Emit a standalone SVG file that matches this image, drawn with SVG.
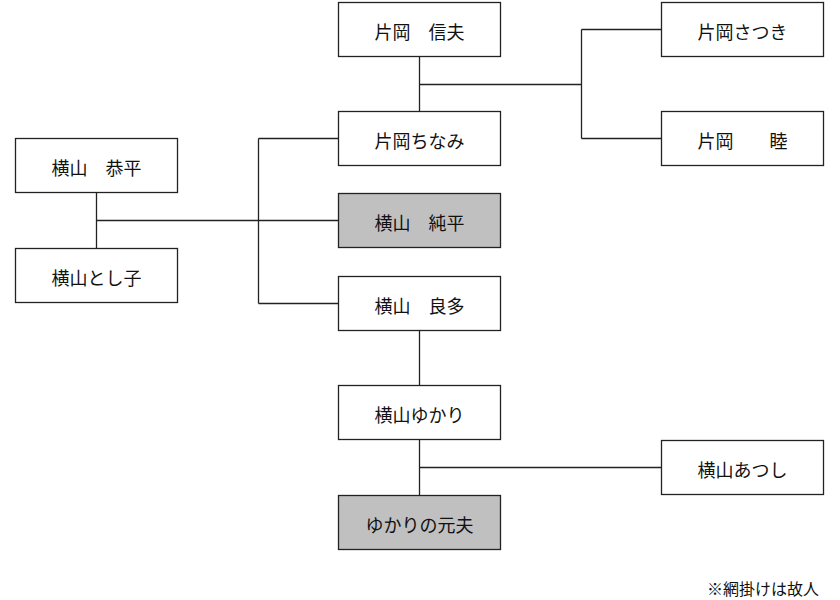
<svg xmlns="http://www.w3.org/2000/svg" width="840" height="600" viewBox="0 0 840 600">
<style>
.box{fill:#ffffff;stroke:#222222;stroke-width:1.3}
.dead{fill:#c0c0c0}
.lbl{font-family:"Noto Sans CJK JP","Noto Sans CJK SC",sans-serif;font-size:18px;fill:#111111;text-anchor:middle}
.note{font-family:"Noto Sans CJK JP","Noto Sans CJK SC",sans-serif;font-size:16px;fill:#111111;text-anchor:end}
.ln{fill:none;stroke:#222222;stroke-width:1.3}
</style>
<rect width="840" height="600" fill="#ffffff"/>
<g id="connectors">
<path class="ln" d="M419.5,57 V111 M419.5,84.5 H581.5 M581.5,29.5 V138.5 M581.5,29.5 H661 M581.5,138.5 H661"/>
<path class="ln" d="M96.5,193 V248 M96.5,220.5 H338"/>
<path class="ln" d="M258.5,138.5 V303.5 M258.5,138.5 H338 M258.5,303.5 H338"/>
<path class="ln" d="M419.5,331 V385 M419.5,440 V495 M419.5,467.5 H661"/>
</g>
<g id="nobuo"><rect class="box" x="338.5" y="2.5" width="162" height="54"/><text class="lbl" x="419.5" y="39">片岡　信夫</text></g>
<g id="satsuki"><rect class="box" x="661.5" y="2.5" width="162" height="54"/><text class="lbl" x="742.5" y="39">片岡さつき</text></g>
<g id="mutsu"><rect class="box" x="661.5" y="111.5" width="162" height="54"/><text class="lbl" x="742.5" y="148">片岡　　睦</text></g>
<g id="chinami"><rect class="box" x="338.5" y="111.5" width="162" height="54"/><text class="lbl" x="419.5" y="148">片岡ちなみ</text></g>
<g id="kyohei"><rect class="box" x="15.5" y="138.5" width="162" height="54"/><text class="lbl" x="96.5" y="175">横山　恭平</text></g>
<g id="toshiko"><rect class="box" x="15.5" y="248.5" width="162" height="54"/><text class="lbl" x="96.5" y="285">横山とし子</text></g>
<g id="junpei"><rect class="box dead" x="338.5" y="193.5" width="162" height="54"/><text class="lbl" x="419.5" y="230">横山　純平</text></g>
<g id="ryota"><rect class="box" x="338.5" y="276.5" width="162" height="54"/><text class="lbl" x="419.5" y="313">横山　良多</text></g>
<g id="yukari"><rect class="box" x="338.5" y="385.5" width="162" height="54"/><text class="lbl" x="419.5" y="422">横山ゆかり</text></g>
<g id="atsushi"><rect class="box" x="661.5" y="440.5" width="162" height="54"/><text class="lbl" x="742.5" y="477">横山あつし</text></g>
<g id="exhusband"><rect class="box dead" x="338.5" y="495.5" width="162" height="54"/><text class="lbl" x="419.5" y="532">ゆかりの元夫</text></g>
<text class="note" x="819" y="595">※網掛けは故人</text>
</svg>
